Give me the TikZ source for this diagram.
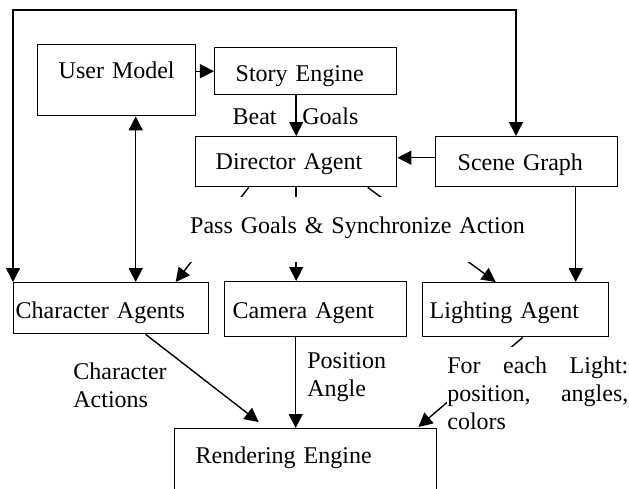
\documentclass[tikz,border=0pt]{standalone}
\usepackage{fontspec}
\setmainfont{Liberation Serif}
\usetikzlibrary{arrows.meta}
\tikzset{
  caja/.style={draw, line width=0.7pt, anchor=north west, inner ysep=0pt, align=left},
  texto/.style={inner sep=0pt, align=left},
  flecha/.style={line width=0.7pt, -{Triangle[length=7pt,width=7pt]}},
  doble/.style={line width=0.7pt, {Triangle[length=7pt,width=7pt]}-{Triangle[length=7pt,width=7pt]}},
}
\begin{document}
\begin{tikzpicture}[x=0.5pt, y=-0.5pt, font=\fontsize{12}{14}\selectfont]
    \useasboundingbox (0,0) rectangle (629,489);
    \clip (0,0) rectangle (629,489);
    % Cajas
    \node[caja, inner xsep=10.5pt, text width=58pt, text height=17pt, text depth=18.5pt] (usuario) at (37,44) {User Model};
    \node[caja, inner xsep=10.5pt, text width=70pt, text height=17pt, text depth=6.5pt] (historia) at (214,47) {Story Engine};
    \node[caja, inner xsep=10pt, text width=80.5pt, text height=16.5pt, text depth=8.5pt] (director) at (195,136) {Director Agent};
    \node[caja, inner xsep=11pt, text width=69pt, text height=17pt, text depth=8pt] (escena) at (435,136) {Scene Graph};
    \node[caja, inner xsep=1pt, text width=95.5pt, text height=18pt, text depth=7.5pt] (personajes) at (13,282) {Character Agents};
    \node[caja, inner xsep=4pt, text width=83pt, text height=18.5pt, text depth=9pt] (camara) at (224,281) {Camera Agent};
    \node[caja, inner xsep=3.5pt, text width=86pt, text height=18pt, text depth=9pt] (luces) at (422,282) {Lighting Agent};
    \node[caja, inner xsep=10.5pt, text width=110pt, text height=17.5pt, text depth=20pt] (render) at (174,428) {Rendering Engine};
    % Flechas de arriba
    \coordinate (tope) at (516,10);
    \draw[doble] (personajes.north west) |- (tope) -- (tope |- escena.north);
    \draw[flecha] (historia.west -| usuario.east) -- (historia.west);
    \draw[flecha] (historia.south -| director.north) -- (director.north);
    \draw[flecha] ([yshift=2pt]escena.west) -- ([yshift=2pt]director.east);
    \draw[doble] ([xshift=9.5pt]usuario.south) -- ([xshift=9.5pt]usuario.south |- personajes.north);
    \draw[flecha] ([xshift=24.5pt]escena.south) -- ([xshift=24.5pt]escena.south |- luces.north);
    \node[texto, anchor=base east] (beat) at (277,124) {Beat};
    \node[texto, anchor=base west] (goals) at (302,124) {Goals};
    % Del director a los agentes
    \draw[flecha] ([xshift=-23.75pt]director.south) -- ([xshift=32.25pt]personajes.north);
    \draw[flecha] (director.south) -- (director.south |- camara.north);
    \draw[flecha] ([xshift=35.75pt]director.south) -- ([xshift=-10pt]luces.north);
    \node[texto, fill=white, anchor=north, align=center, text width=182.5pt, text height=18pt, text depth=14.5pt] (pasa) at (357.5,197) {Pass Goals \& Synchronize Action};
    % Al render
    \draw[flecha] ([xshift=17.25pt]personajes.south) -- ([xshift=-23.5pt,yshift=3pt]render.north);
    \draw[flecha] ([xshift=-10pt]camara.south) -- ([xshift=-10pt]camara.south |- render.north);
    \draw[flecha] ([xshift=3.5pt]luces.south) -- ([xshift=-9.5pt,yshift=0.5pt]render.north east);
    \node[texto, anchor=base west] (acciones) at (73,407) {Character\\Actions};
    \node[texto, anchor=base west] (posicion) at (307,396) {Position\\Angle};
    \node[texto, fill=white, anchor=north west, text width=90.5pt, text height=13pt, text depth=32pt] (datos) at (447,347) {For\hfill each\hfill Light:\\position,\hfill angles,\\colors};
  \end{tikzpicture}
\end{document}
